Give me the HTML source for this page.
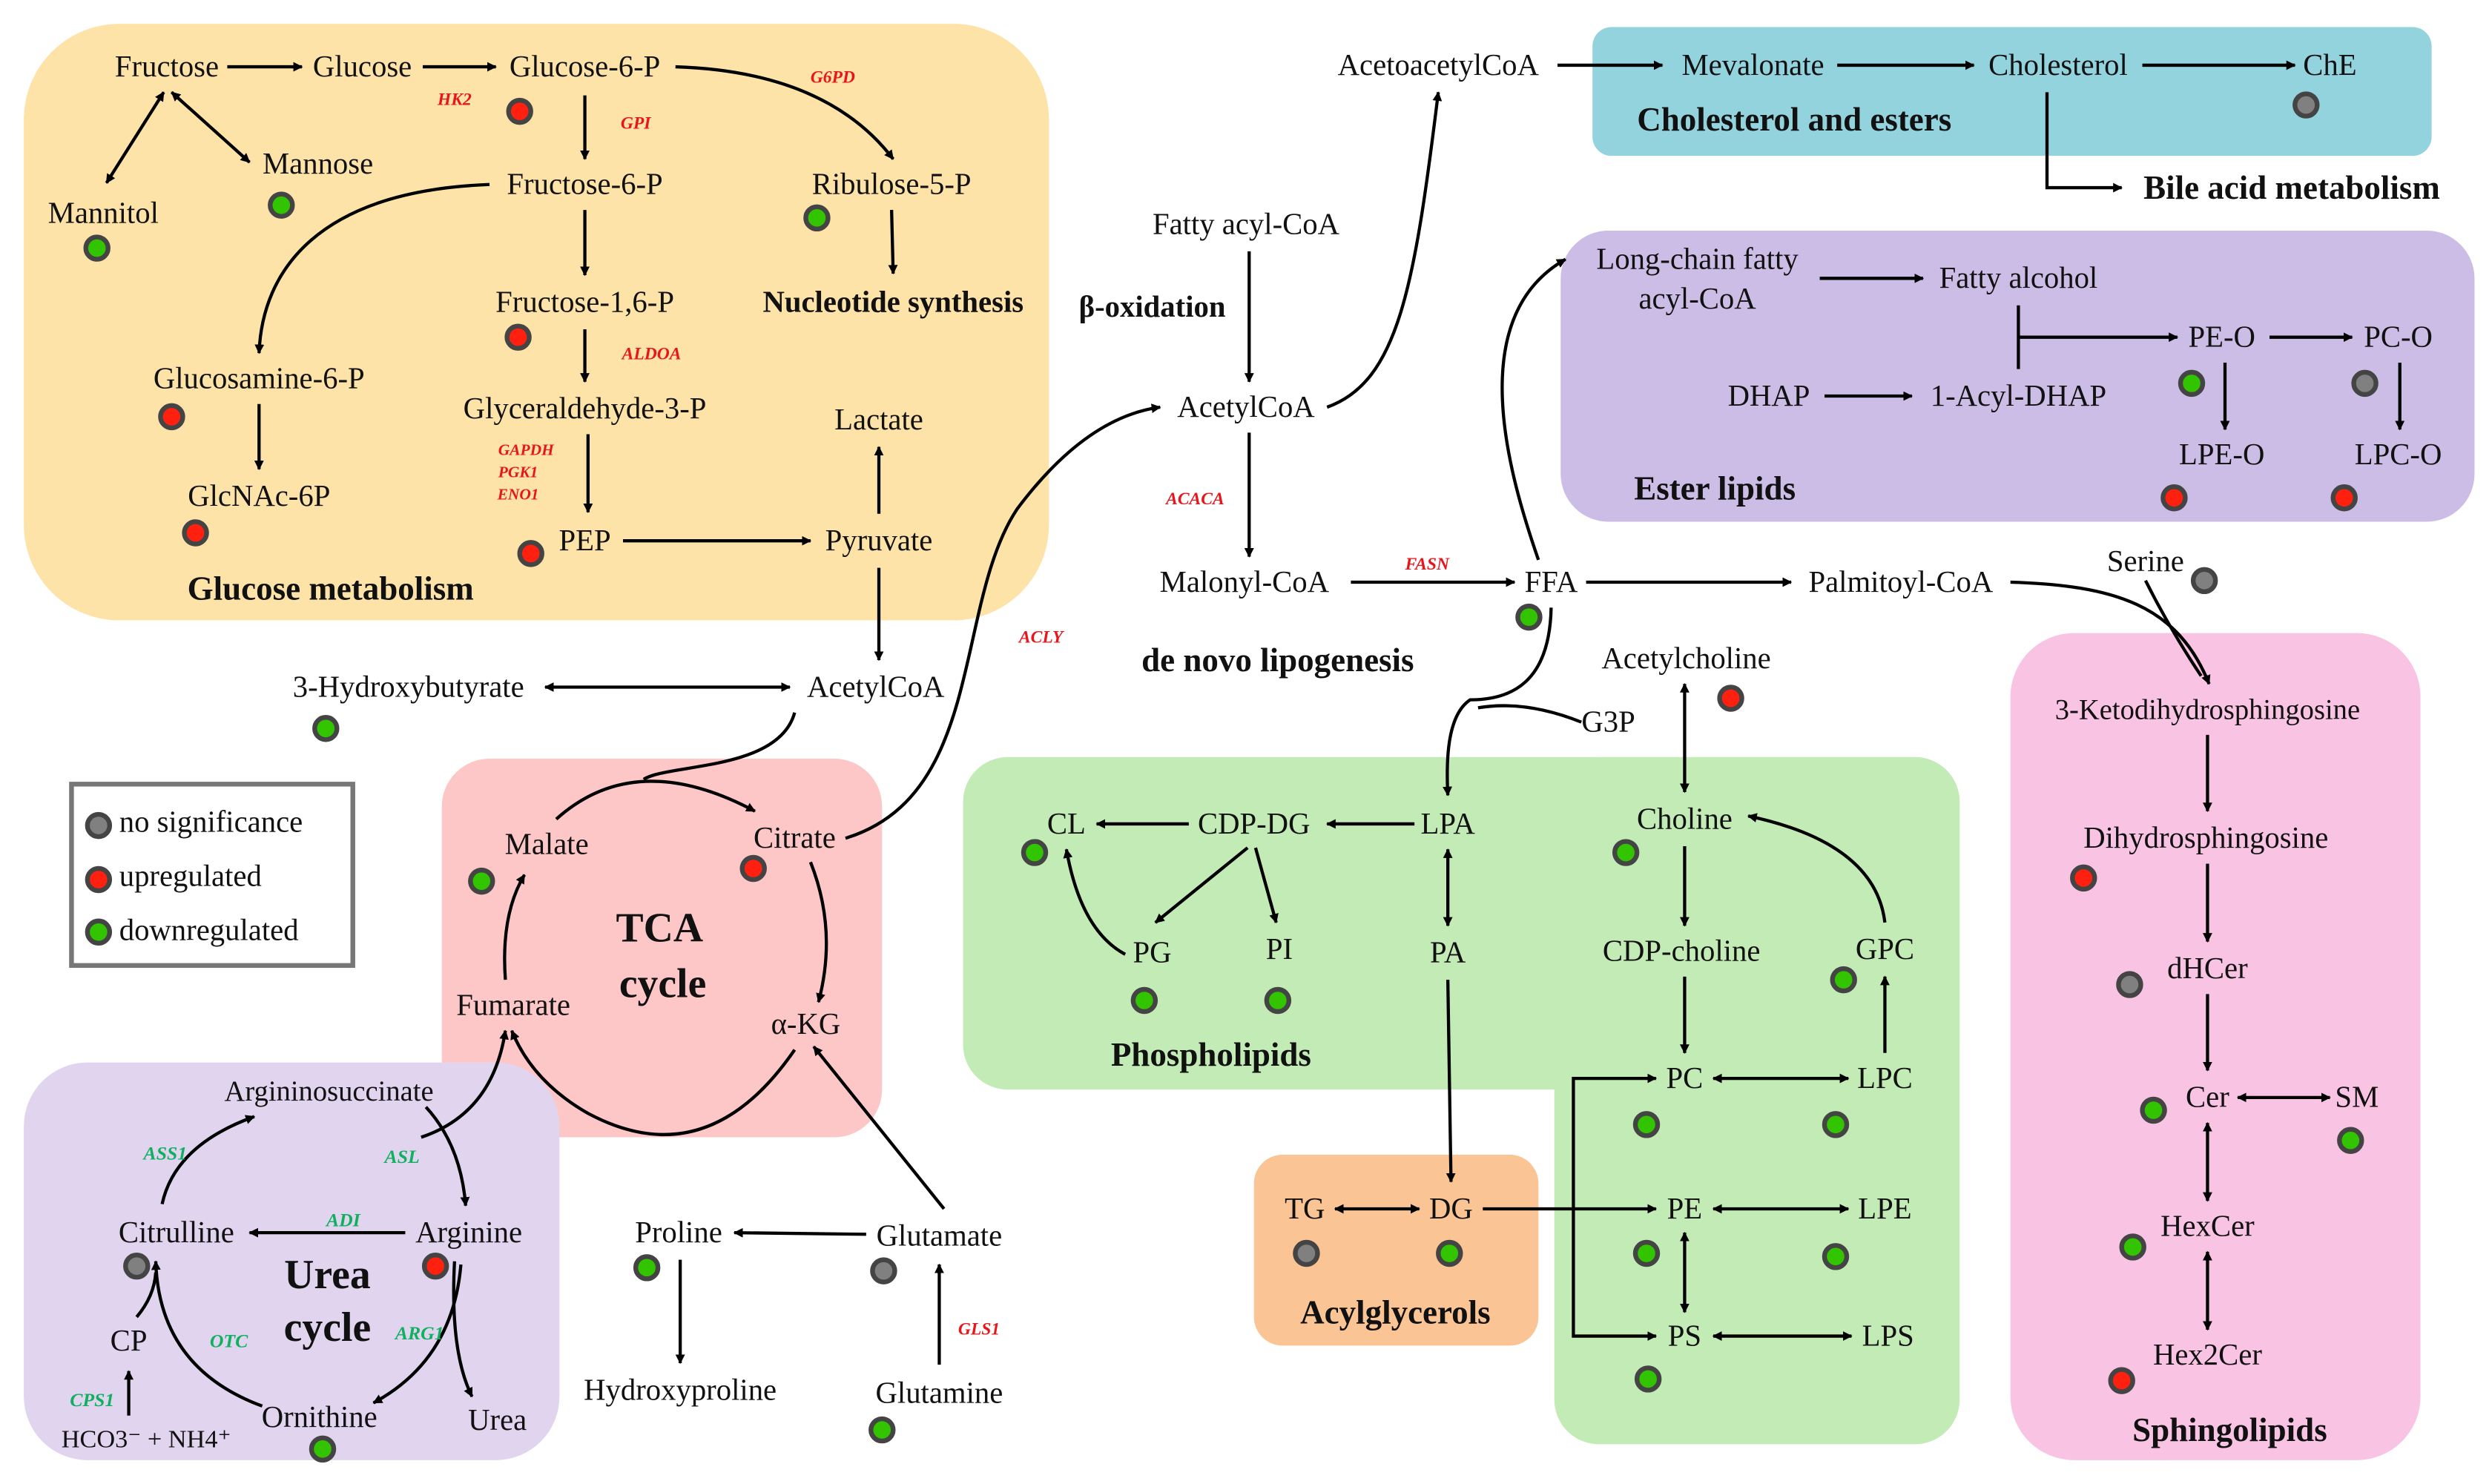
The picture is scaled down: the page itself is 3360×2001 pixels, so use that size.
<!DOCTYPE html>
<html><head><meta charset="utf-8"><style>
html,body{margin:0;padding:0;background:#fff;}
svg{display:block;font-family:"Liberation Serif","DejaVu Serif",serif;}
svg text{font-family:"Liberation Serif","DejaVu Serif",serif;font-size:19px;fill:#111;text-anchor:middle;}
svg text.b{font-weight:bold;font-size:21px;}
svg text.bb{font-weight:bold;font-size:26px;}
svg text.r{fill:#e8161a;font-style:italic;font-weight:bold;font-size:11px;}
svg text.g{fill:#10b060;font-style:italic;font-weight:bold;font-size:12px;}
.a{fill:none;stroke:#000;stroke-width:2;marker-end:url(#ah);}
.d{fill:none;stroke:#000;stroke-width:2;marker-end:url(#ah);marker-start:url(#ah);}
.l{fill:none;stroke:#000;stroke-width:2;}
.G{fill:#33c400;stroke:#444;stroke-width:3;}
.R{fill:#ff2010;stroke:#444;stroke-width:3;}
.Y{fill:#808080;stroke:#444;stroke-width:3;}
</style></head><body>
<svg width="3360" height="2001" viewBox="0 0 1568 933" preserveAspectRatio="none" xmlns="http://www.w3.org/2000/svg" font-family="Liberation Serif, serif">
<defs><marker id="ah" viewBox="0 0 10 10" refX="9" refY="5" markerWidth="6" markerHeight="6" orient="auto-start-reverse" markerUnits="userSpaceOnUse"><path d="M0,0 L10,5 L0,10 z" fill="#000"/></marker></defs>
<!-- boxes -->
<rect x="15" y="15" width="645" height="375" rx="60" fill="#fde3a8"/>
<rect x="1002" y="17" width="528" height="81" rx="12" fill="#93d3de"/>
<rect x="982" y="145" width="575" height="183" rx="30" fill="#cbbde5"/>
<rect x="278" y="477" width="277" height="238" rx="30" fill="#fdc7c7"/>
<rect x="15" y="668" width="337" height="250" rx="40" fill="#e0d4ee"/>
<rect x="606" y="476" width="627" height="209" rx="28" fill="#c3ebb6"/>
<rect x="978" y="476" width="255" height="432" rx="28" fill="#c3ebb6"/>
<rect x="789" y="726" width="179" height="120" rx="18" fill="#fbc494"/>
<rect x="1265" y="398" width="258" height="520" rx="40" fill="#f9c4e3"/>
<rect x="45" y="493" width="177" height="114" fill="#fff" stroke="#777" stroke-width="3"/>

<path class="a" d="M143,42 L190,42"/>
<path class="a" d="M266,42 L312,42"/>
<path class="d" d="M103,58 L67,115"/>
<path class="d" d="M108,58 L157,102"/>
<path class="a" d="M425,42 Q520,45 562,100"/>
<path class="a" d="M368,60 L368,100"/>
<path class="a" d="M308,116 C200,120 165,170 163,222"/>
<path class="a" d="M561,132 L562,172"/>
<path class="a" d="M368,132 L368,173"/>
<path class="a" d="M368,207 L368,240"/>
<path class="a" d="M163,254 L163,295"/>
<path class="a" d="M370,273 L370,322"/>
<path class="a" d="M392,340 L510,340"/>
<path class="a" d="M553,323 L553,281"/>
<path class="a" d="M553,357 L553,415"/>
<path class="d" d="M343,432 L497,432"/>
<path class="l" d="M500,448 C490,485 420,480 405,490"/>
<path class="a" d="M350,515 Q400,470 475,510"/>
<path class="a" d="M510,542 Q527,585 515,630"/>
<path class="a" d="M500,660 Q445,740 370,700 Q335,680 322,648"/>
<path class="a" d="M318,616 Q315,575 330,550"/>
<path class="a" d="M532,527 C620,500 600,380 640,320 C670,280 700,260 730,256"/>
<path class="a" d="M594,760 L512,658"/>
<path class="a" d="M591,858 L591,795"/>
<path class="a" d="M545,776 L462,775"/>
<path class="a" d="M428,792 L428,857"/>
<path class="a" d="M265,715 Q310,700 318,648"/>
<path class="a" d="M102,757 Q110,720 160,702"/>
<path class="a" d="M268,696 Q290,720 293,758"/>
<path class="a" d="M255,775 L157,775"/>
<path class="a" d="M286,793 Q283,850 297,878"/>
<path class="a" d="M290,795 Q285,855 235,882"/>
<path class="a" d="M165,884 Q100,860 98,793"/>
<path class="l" d="M86,828 Q97,815 98,800"/>
<path class="a" d="M81,890 L81,862"/>
<path class="a" d="M786,158 L786,240"/>
<path class="a" d="M786,272 L786,350"/>
<path class="a" d="M850,366 L953,366"/>
<path class="a" d="M998,366 L1127,366"/>
<path class="a" d="M835,256 C880,240 890,180 905,58"/>
<path class="a" d="M980,41 L1046,41"/>
<path class="a" d="M1156,41 L1242,41"/>
<path class="a" d="M1348,41 L1444,41"/>
<path class="a" d="M1288,58 L1288,118 L1335,118"/>
<path class="a" d="M968,352 C950,300 920,200 985,163"/>
<path class="a" d="M1145,175 L1210,175"/>
<path class="l" d="M1270,192 L1270,232"/>
<path class="a" d="M1270,212 L1370,212"/>
<path class="a" d="M1148,249 L1203,249"/>
<path class="a" d="M1428,212 L1480,212"/>
<path class="a" d="M1400,228 L1400,270"/>
<path class="a" d="M1510,228 L1510,270"/>
<path class="a" d="M1265,366 C1330,368 1370,380 1390,430"/>
<path class="l" d="M1350,365 Q1365,395 1385,425"/>
<path class="a" d="M976,382 C975,430 950,440 925,440 C910,450 910,480 911,500"/>
<path class="l" d="M995,454 Q960,440 930,445"/>
<path class="d" d="M1060,430 L1060,498"/>
<path class="a" d="M890,518 L835,518"/>
<path class="a" d="M748,518 L690,518"/>
<path class="a" d="M785,533 L727,580"/>
<path class="a" d="M790,533 L803,580"/>
<path class="a" d="M708,600 Q680,585 671,534"/>
<path class="d" d="M911,534 L911,582"/>
<path class="a" d="M911,616 L913,743"/>
<path class="a" d="M1060,532 L1060,582"/>
<path class="a" d="M1060,614 L1060,662"/>
<path class="a" d="M1186,580 Q1180,530 1100,513"/>
<path class="a" d="M1186,662 L1186,614"/>
<path class="d" d="M1078,678 L1163,678"/>
<path class="d" d="M840,760 L893,760"/>
<path class="a" d="M933,760 L1042,760"/>
<path class="a" d="M990,760 L990,678 L1042,678"/>
<path class="a" d="M990,760 L990,840 L1042,840"/>
<path class="d" d="M1078,760 L1163,760"/>
<path class="d" d="M1060,775 L1060,825"/>
<path class="d" d="M1078,840 L1165,840"/>
<path class="a" d="M1389,462 L1389,510"/>
<path class="a" d="M1389,543 L1389,592"/>
<path class="a" d="M1389,625 L1389,673"/>
<path class="d" d="M1408,690 L1466,690"/>
<path class="d" d="M1389,706 L1389,755"/>
<path class="d" d="M1389,787 L1389,836"/>

<g>
<text x="105" y="48">Fructose</text><text x="228" y="48">Glucose</text><text x="368" y="48">Glucose-6-P</text>
<text class="r" x="524" y="52">G6PD</text><text class="r" x="286" y="66">HK2</text><text class="r" x="400" y="81">GPI</text>
<text x="200" y="109">Mannose</text><text x="65" y="140">Mannitol</text><text x="368" y="122">Fructose-6-P</text>
<text x="561" y="122">Ribulose-5-P</text><text x="368" y="196">Fructose-1,6-P</text><text class="b" x="562" y="196" style="font-size:19px">Nucleotide synthesis</text>
<text class="r" x="410" y="226">ALDOA</text><text x="163" y="244">Glucosamine-6-P</text><text x="368" y="263">Glyceraldehyde-3-P</text>
<text x="553" y="270">Lactate</text>
<text class="r" x="331" y="286" style="font-size:10px">GAPDH</text><text class="r" x="326" y="300" style="font-size:10px">PGK1</text><text class="r" x="326" y="314" style="font-size:10px">ENO1</text>
<text x="163" y="318">GlcNAc-6P</text><text x="368" y="346">PEP</text><text x="553" y="346">Pyruvate</text>
<text class="b" x="208" y="377">Glucose metabolism</text>
<text x="257" y="438">3-Hydroxybutyrate</text><text x="551" y="438">AcetylCoA</text>
<text x="75" y="523" style="text-anchor:start">no significance</text><text x="75" y="557" style="text-anchor:start">upregulated</text><text x="75" y="591" style="text-anchor:start">downregulated</text>
<text x="344" y="537">Malate</text><text x="500" y="533">Citrate</text>
<text class="bb" x="415" y="592">TCA</text><text class="bb" x="417" y="627">cycle</text>
<text x="323" y="638">Fumarate</text><text x="507" y="650">α-KG</text>
<text x="207" y="692" style="font-size:18px">Argininosuccinate</text>
<text class="g" x="104" y="729">ASS1</text><text class="g" x="253" y="731">ASL</text><text class="g" x="216" y="771">ADI</text>
<text x="111" y="781">Citrulline</text><text x="295" y="781">Arginine</text>
<text class="bb" x="206" y="810">Urea</text><text class="bb" x="206" y="843">cycle</text>
<text class="g" x="144" y="847">OTC</text><text class="g" x="264" y="842">ARG1</text><text x="81" y="849">CP</text>
<text class="g" x="58" y="884">CPS1</text><text x="201" y="897">Ornithine</text><text x="313" y="899">Urea</text>
<text x="92" y="910" style="font-size:16px">HCO3⁻ + NH4⁺</text>
<text x="427" y="781">Proline</text><text x="591" y="783">Glutamate</text><text x="428" y="880">Hydroxyproline</text>
<text class="r" x="616" y="839">GLS1</text><text x="591" y="882">Glutamine</text>
<text x="905" y="47">AcetoacetylCoA</text><text x="1103" y="47">Mevalonate</text><text x="1295" y="47">Cholesterol</text><text x="1466" y="47">ChE</text>
<text class="b" x="1129" y="82">Cholesterol and esters</text><text class="b" x="1442" y="125">Bile acid metabolism</text>
<text x="784" y="147">Fatty acyl-CoA</text><text class="b" x="725" y="199" style="font-size:19px">β-oxidation</text>
<text x="784" y="262">AcetylCoA</text><text class="r" x="752" y="317">ACACA</text>
<text x="783" y="372">Malonyl-CoA</text><text class="r" x="898" y="358">FASN</text><text x="976" y="372">FFA</text>
<text x="1196" y="372">Palmitoyl-CoA</text><text x="1350" y="359">Serine</text>
<text class="b" x="804" y="422">de novo lipogenesis</text><text class="r" x="655" y="404">ACLY</text>
<text x="1068" y="169">Long-chain fatty</text><text x="1068" y="194">acyl-CoA</text><text x="1270" y="181">Fatty alcohol</text>
<text x="1398" y="218">PE-O</text><text x="1509" y="218">PC-O</text><text x="1113" y="255">DHAP</text><text x="1270" y="255">1-Acyl-DHAP</text>
<text x="1398" y="292">LPE-O</text><text x="1509" y="292">LPC-O</text><text class="b" x="1079" y="314">Ester lipids</text>
<text x="1061" y="420">Acetylcholine</text><text x="1012" y="460">G3P</text>
<text x="671" y="524">CL</text><text x="789" y="524">CDP-DG</text><text x="911" y="524">LPA</text><text x="1060" y="521">Choline</text>
<text x="725" y="605">PG</text><text x="805" y="603">PI</text><text x="911" y="605">PA</text><text x="1058" y="604">CDP-choline</text><text x="1186" y="603">GPC</text>
<text class="b" x="762" y="670">Phospholipids</text>
<text x="1060" y="684">PC</text><text x="1186" y="684">LPC</text>
<text x="821" y="766">TG</text><text x="913" y="766">DG</text><text x="1060" y="766">PE</text><text x="1186" y="766">LPE</text>
<text class="b" x="878" y="832">Acylglycerols</text>
<text x="1060" y="846">PS</text><text x="1188" y="846">LPS</text>
<text x="1389" y="452" style="font-size:18px">3-Ketodihydrosphingosine</text><text x="1388" y="533">Dihydrosphingosine</text>
<text x="1389" y="615">dHCer</text><text x="1389" y="696">Cer</text><text x="1483" y="696">SM</text>
<text x="1389" y="777">HexCer</text><text x="1389" y="858">Hex2Cer</text><text class="b" x="1403" y="906">Sphingolipids</text>
</g>

<g>
<circle class="Y" cx="62" cy="519" r="7"/><circle class="R" cx="62" cy="553" r="7"/><circle class="G" cx="62" cy="586" r="7"/>
<circle class="R" cx="327" cy="70" r="7"/><circle class="G" cx="177" cy="129" r="7"/><circle class="G" cx="61" cy="156" r="7"/>
<circle class="G" cx="514" cy="137" r="7"/><circle class="R" cx="326" cy="212" r="7"/><circle class="R" cx="108" cy="262" r="7"/>
<circle class="R" cx="123" cy="335" r="7"/><circle class="R" cx="334" cy="348" r="7"/><circle class="G" cx="205" cy="458" r="7"/>
<circle class="G" cx="303" cy="554" r="7"/><circle class="R" cx="474" cy="546" r="7"/><circle class="Y" cx="86" cy="796" r="7"/>
<circle class="R" cx="274" cy="796" r="7"/><circle class="G" cx="203" cy="911" r="7"/><circle class="G" cx="407" cy="797" r="7"/>
<circle class="Y" cx="556" cy="799" r="7"/><circle class="G" cx="555" cy="899" r="7"/><circle class="Y" cx="1451" cy="66" r="7"/>
<circle class="G" cx="962" cy="388" r="7"/><circle class="Y" cx="1387" cy="365" r="7"/><circle class="G" cx="1379" cy="241" r="7"/>
<circle class="Y" cx="1488" cy="241" r="7"/><circle class="R" cx="1368" cy="313" r="7"/><circle class="R" cx="1475" cy="313" r="7"/>
<circle class="R" cx="1089" cy="439" r="7"/><circle class="G" cx="651" cy="536" r="7"/><circle class="G" cx="720" cy="629" r="7"/>
<circle class="G" cx="804" cy="629" r="7"/><circle class="G" cx="1023" cy="536" r="7"/><circle class="G" cx="1160" cy="616" r="7"/>
<circle class="G" cx="1036" cy="707" r="7"/><circle class="G" cx="1155" cy="707" r="7"/><circle class="Y" cx="822" cy="788" r="7"/>
<circle class="G" cx="912" cy="788" r="7"/><circle class="G" cx="1036" cy="788" r="7"/><circle class="G" cx="1155" cy="790" r="7"/>
<circle class="G" cx="1037" cy="867" r="7"/><circle class="R" cx="1311" cy="552" r="7"/><circle class="Y" cx="1340" cy="619" r="7"/>
<circle class="G" cx="1355" cy="698" r="7"/><circle class="G" cx="1479" cy="717" r="7"/><circle class="G" cx="1342" cy="784" r="7"/>
<circle class="R" cx="1335" cy="868" r="7"/>
</g>
</svg>
</body></html>
